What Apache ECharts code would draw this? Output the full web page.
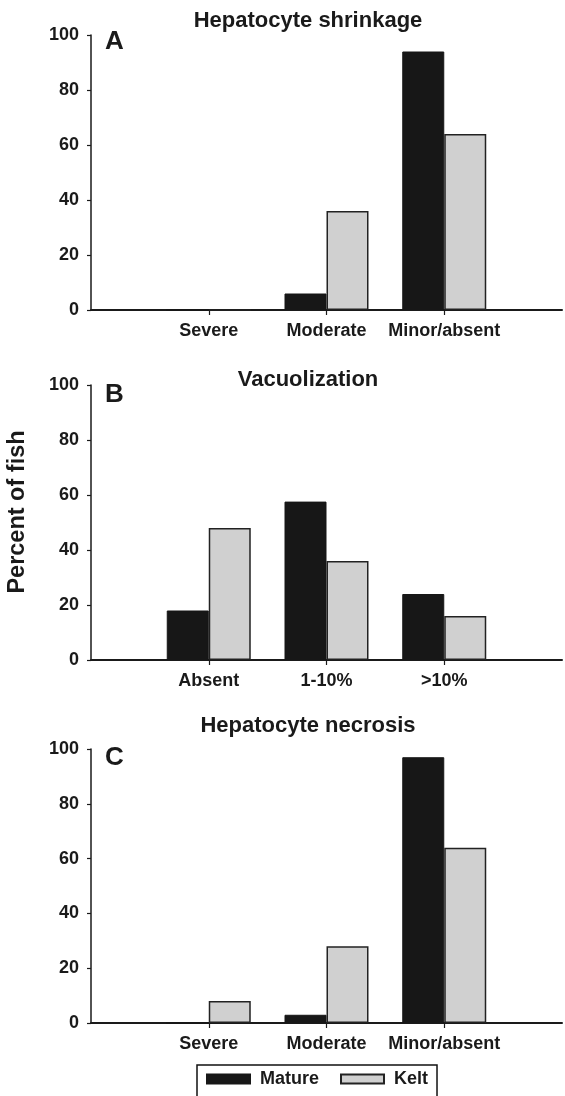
<!DOCTYPE html>
<html>
<head>
<meta charset="utf-8">
<script src="https://cdn.jsdelivr.net/npm/echarts@6/dist/echarts.min.js"></script>
<style>
html,body{margin:0;padding:0;background:#fff;}
#chart{width:565px;height:1096px;}
</style>
</head>
<body>
<div id="chart"></div>
<script>
// ---- data ----
var seriesNames = ['Mature', 'Kelt'];
var catsA = ['Severe', 'Moderate', 'Minor/absent'];
var matureA = [0, 6, 94];
var keltA = [0, 36, 64];
var catsB = ['Absent', '1-10%', '>10%'];
var matureB = [18, 57.6, 24];
var keltB = [48, 36, 16];
var catsC = ['Severe', 'Moderate', 'Minor/absent'];
var matureC = [0, 3, 97];
var keltC = [8, 28, 64];
var yTicks = [0, 20, 40, 60, 80, 100];
var panelTitles = ['Hepatocyte shrinkage', 'Vacuolization', 'Hepatocyte necrosis'];
var panelLetters = ['A', 'B', 'C'];
var yAxisTitle = 'Percent of fish';

// ---- build ----
var FONT = '"Liberation Sans", Arial, Helvetica, sans-serif';
var INK = '#1a1a1a';
var grids = [
  {left: 91, right: -1, top: 35, height: 275},
  {left: 91, right: -1, top: 385, height: 275},
  {left: 91, right: -1, top: 749, height: 274}
];
var cats = [catsA, catsB, catsC];
var mature = [matureA, matureB, matureC];
var kelt = [keltA, keltB, keltC];
function pad(arr) { return [''].concat(arr).concat(['']); }
function padV(arr) { return ['-'].concat(arr).concat(['-']); }

var xAxes = [], yAxes = [], series = [], titles = [], graphics = [];
var titleTops = [10, 369, 715];
var letterTops = [29, 382, 745];
for (var i = 0; i < 3; i++) {
  xAxes.push({
    gridIndex: i, type: 'category', boundaryGap: false, data: pad(cats[i]),
    axisLine: {lineStyle: {color: INK, width: 2}},
    axisTick: {show: true, length: 5, lineStyle: {color: INK, width: 1.2},
      interval: function (idx, val) { return val !== ''; }},
    axisLabel: {interval: 0, margin: 12, color: INK, fontFamily: FONT, fontWeight: 'bold', fontSize: 18},
    splitLine: {show: false}
  });
  yAxes.push({
    gridIndex: i, type: 'value', min: yTicks[0], max: yTicks[yTicks.length - 1], interval: yTicks[1] - yTicks[0],
    axisLine: {show: true, lineStyle: {color: INK, width: 1.5}},
    axisTick: {show: true, length: 4, lineStyle: {color: INK, width: 1.2}},
    axisLabel: {margin: 12, color: INK, fontFamily: FONT, fontWeight: 'bold', fontSize: 18},
    splitLine: {show: false}
  });
  series.push({
    name: seriesNames[0], type: 'bar', xAxisIndex: i, yAxisIndex: i,
    data: padV(mature[i]), barWidth: 42, barGap: '0%',
    itemStyle: {color: '#171717', borderColor: '#171717', borderWidth: 1}
  });
  series.push({
    name: seriesNames[1], type: 'bar', xAxisIndex: i, yAxisIndex: i,
    data: padV(kelt[i]), barWidth: 42, barGap: '0%',
    itemStyle: {color: '#d0d0d0', borderColor: '#222', borderWidth: 1.5}
  });
  titles.push({
    text: panelTitles[i], left: 308, top: titleTops[i], textAlign: 'center', padding: 0,
    textStyle: {fontFamily: FONT, fontWeight: 'bold', fontSize: 22, color: INK}
  });
  graphics.push({
    type: 'text', left: 105, top: letterTops[i],
    style: {text: panelLetters[i], font: 'bold 26px ' + FONT, fill: INK}
  });
}
graphics.push({
  type: 'text', x: 18, y: 512, rotation: Math.PI / 2,
  style: {text: yAxisTitle, font: 'bold 23.5px ' + FONT, fill: INK, align: 'center', verticalAlign: 'middle'}
});

var chart = echarts.init(document.getElementById('chart'), null, {renderer: 'canvas'});
chart.setOption({
  animation: false,
  backgroundColor: '#fff',
  title: titles,
  grid: grids,
  xAxis: xAxes,
  yAxis: yAxes,
  series: series,
  legend: {
    data: seriesNames, left: 197, top: 1065, icon: 'rect',
    itemWidth: 43, itemHeight: 9, itemGap: 21,
    padding: [5, 9, 12, 9],
    borderColor: '#111', borderWidth: 1.5,
    textStyle: {fontFamily: FONT, fontWeight: 'bold', fontSize: 18, color: INK, padding: [0, 0, 0, 5]}
  },
  graphic: graphics
});
</script>
</body>
</html>
